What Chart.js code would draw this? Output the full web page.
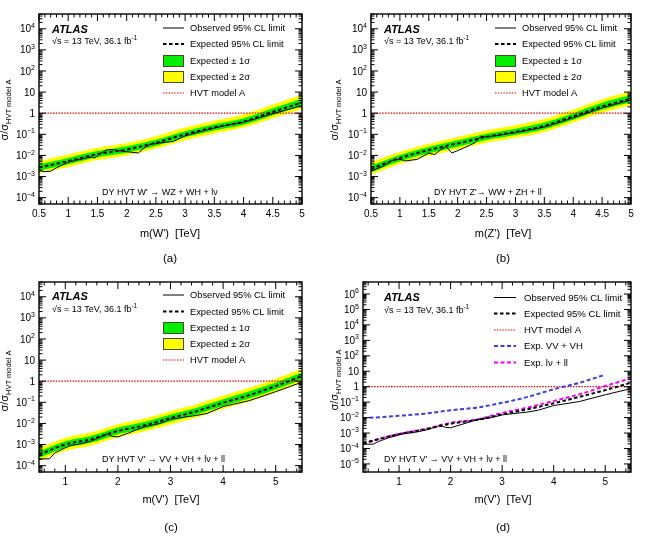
<!DOCTYPE html>
<html>
<head>
<meta charset="utf-8">
<script src="https://cdn.jsdelivr.net/npm/chart.js@4.4.1/dist/chart.umd.min.js"></script>
<style>
html, body { margin: 0; padding: 0; background: #fff; }
#wrap { position: relative; width: 646px; height: 540px; overflow: hidden; }
#wrap canvas { position: absolute; }
</style>
</head>
<body>
<div id="wrap">
<canvas id="panelA" width="323" height="270" style="left:0;top:0"></canvas>
<canvas id="panelB" width="323" height="270" style="left:323px;top:0"></canvas>
<canvas id="panelC" width="323" height="270" style="left:0;top:270px"></canvas>
<canvas id="panelD" width="323" height="270" style="left:323px;top:270px"></canvas>
</div>
<script>
// ---- values ----
const hvtModelA = 1;

// (a) W' -> WZ + WH + lv
const massA = [0.5, 1.0, 1.5, 2.0, 2.5, 3.0, 3.5, 4.0, 4.5, 5.0];
const expA = [2.7e-3, 5.4e-3, 1.15e-2, 1.9e-2, 4.0e-2, 0.10, 0.21, 0.40, 1.15, 3.2];
const up1A = [3.8e-3, 7.6e-3, 1.6e-2, 2.7e-2, 5.6e-2, 0.14, 0.30, 0.58, 1.7, 4.8];
const dn1A = [1.9e-3, 3.8e-3, 8.2e-3, 1.35e-2, 2.8e-2, 0.072, 0.15, 0.28, 0.80, 2.2];
const up2A = [5.5e-3, 1.1e-2, 2.3e-2, 3.9e-2, 8.2e-2, 0.21, 0.44, 0.86, 2.6, 7.2];
const dn2A = [1.4e-3, 2.8e-3, 6.0e-3, 1.0e-2, 2.1e-2, 0.053, 0.11, 0.21, 0.58, 1.6];
const obsMassA = [0.5, 0.6, 0.7, 0.8, 1.0, 1.2, 1.4, 1.45, 1.55, 1.65, 1.75, 1.9, 2.0, 2.2, 2.3, 2.4, 2.6, 2.8, 3.0, 3.2, 3.5, 3.8, 4.0, 4.3, 4.5, 4.8, 5.0];
const obsA = [1.9e-3, 1.7e-3, 1.8e-3, 2.6e-3, 4.8e-3, 6.5e-3, 8.5e-3, 7.5e-3, 1.2e-2, 1.8e-2, 1.9e-2, 1.65e-2, 1.5e-2, 1.3e-2, 2.3e-2, 3.3e-2, 4.0e-2, 4.6e-2, 8.5e-2, 0.12, 0.20, 0.30, 0.37, 0.65, 0.95, 1.6, 2.3];

// (b) Z' -> WW + ZH + ll
const massB = [0.5, 1.0, 1.5, 2.0, 2.5, 3.0, 3.5, 4.0, 4.5, 5.0];
const expB = [2.3e-3, 7.5e-3, 1.8e-2, 3.7e-2, 7.6e-2, 0.13, 0.25, 0.70, 2.1, 4.8];
const up1B = [3.3e-3, 1.05e-2, 2.5e-2, 5.2e-2, 0.107, 0.185, 0.36, 1.0, 3.1, 7.2];
const dn1B = [1.6e-3, 5.3e-3, 1.28e-2, 2.6e-2, 5.4e-2, 0.092, 0.175, 0.49, 1.45, 3.3];
const up2B = [4.8e-3, 1.5e-2, 3.6e-2, 7.5e-2, 0.155, 0.27, 0.53, 1.5, 4.6, 11];
const dn2B = [1.2e-3, 3.9e-3, 9.5e-3, 1.95e-2, 4.0e-2, 0.068, 0.13, 0.36, 1.05, 2.4];
const obsMassB = [0.5, 0.7, 0.9, 1.0, 1.1, 1.3, 1.5, 1.6, 1.7, 1.8, 1.9, 2.1, 2.3, 2.4, 2.5, 2.7, 3.0, 3.5, 4.0, 4.5, 5.0];
const obsB = [1.8e-3, 3.0e-3, 6.5e-3, 6.5e-3, 5.5e-3, 6.5e-3, 1.3e-2, 1.1e-2, 1.8e-2, 2.6e-2, 1.3e-2, 2.2e-2, 4.0e-2, 8.0e-2, 7.5e-2, 9.0e-2, 0.12, 0.22, 0.60, 1.8, 4.2];

// (c) V' -> VV + VH + lv + ll
const massC = [0.5, 1.0, 1.5, 2.0, 2.5, 3.0, 3.5, 4.0, 4.5, 5.0, 5.5];
const expC = [3.3e-4, 1.0e-3, 1.8e-3, 4.4e-3, 8.0e-3, 1.8e-2, 3.8e-2, 9.5e-2, 0.22, 0.58, 1.75];
const up1C = [4.8e-4, 1.45e-3, 2.6e-3, 6.4e-3, 1.17e-2, 2.65e-2, 5.6e-2, 0.14, 0.33, 0.87, 2.6];
const dn1C = [2.3e-4, 7.0e-4, 1.25e-3, 3.1e-3, 5.6e-3, 1.25e-2, 2.65e-2, 6.6e-2, 0.15, 0.40, 1.2];
const up2C = [7.0e-4, 2.1e-3, 3.8e-3, 9.2e-3, 1.7e-2, 3.9e-2, 8.2e-2, 0.21, 0.49, 1.3, 4.0];
const dn2C = [1.7e-4, 5.0e-4, 9.0e-4, 2.2e-3, 4.1e-3, 9.0e-3, 1.9e-2, 4.8e-2, 0.11, 0.29, 0.85];
const obsMassC = [0.5, 0.7, 0.8, 1.0, 1.1, 1.3, 1.5, 1.7, 1.8, 1.9, 2.0, 2.2, 2.5, 2.8, 3.0, 3.5, 3.7, 4.0, 4.5, 5.0, 5.5];
const obsC = [2.1e-4, 2.1e-4, 4.0e-4, 7.0e-4, 9.0e-4, 1.1e-3, 1.5e-3, 2.4e-3, 3.2e-3, 2.4e-3, 2.3e-3, 3.5e-3, 7.0e-3, 1.0e-2, 1.6e-2, 2.4e-2, 3.0e-2, 6.3e-2, 0.12, 0.32, 0.90];

// (d) V' combined with channel groups
const massD = [0.3, 1.0, 1.5, 2.0, 2.5, 3.0, 3.5, 4.0, 4.5, 5.0, 5.5];
const expD = [2.2e-4, 8.5e-4, 1.7e-3, 4.0e-3, 7.0e-3, 1.6e-2, 3.5e-2, 8.5e-2, 0.22, 0.60, 1.8];
const lvllD = [2.0e-4, 9.0e-4, 1.8e-3, 4.6e-3, 7.5e-3, 2.0e-2, 4.5e-2, 0.12, 0.32, 1.1, 3.5];
const vvMassD = [0.3, 1.0, 1.5, 2.0, 2.5, 3.0, 3.5, 4.0, 4.5, 5.0];
const vvvhD = [9.0e-3, 1.3e-2, 1.8e-2, 3.0e-2, 4.4e-2, 9.0e-2, 0.22, 0.68, 1.8, 6.0];
const obsMassD = [0.3, 0.5, 0.6, 0.8, 1.0, 1.1, 1.3, 1.5, 1.7, 1.8, 1.9, 2.0, 2.2, 2.5, 2.8, 3.0, 3.5, 3.7, 4.0, 4.5, 5.0, 5.5];
const obsD = [1.9e-4, 1.9e-4, 2.8e-4, 5.0e-4, 7.5e-4, 9.0e-4, 1.1e-3, 1.5e-3, 2.4e-3, 3.2e-3, 2.3e-3, 2.2e-3, 3.5e-3, 7.0e-3, 1.0e-2, 1.5e-2, 2.3e-2, 3.0e-2, 6.0e-2, 0.11, 0.30, 0.75];

// tick labels
const xTicksAB = [0.5, 1, 1.5, 2, 2.5, 3, 3.5, 4, 4.5, 5];
const xTicksCD = [1, 2, 3, 4, 5];
const yDecadesABC = [-4, -3, -2, -1, 0, 1, 2, 3, 4];
const yDecadesD = [-5, -4, -3, -2, -1, 0, 1, 2, 3, 4, 5, 6];

// ---- styling ----
const FONT = '"Liberation Sans", Arial, Helvetica, sans-serif';
const GREEN = 'rgb(0,238,0)';
const YELLOW = 'rgb(255,255,0)';
const RED = 'rgb(235,0,0)';
const BLUE = 'rgb(60,60,225)';
const MAGENTA = 'rgb(245,0,245)';
const NONE = 'rgba(0,0,0,0)';

const styleObs = { color: '#000', width: 1, dash: [] };
const styleExp = { color: '#000', width: 2, dash: [3.5, 2.5] };
const styleHvt = { color: RED, width: 1.2, dash: [1.5, 1.3] };
const styleVV = { color: BLUE, width: 2, dash: [4, 2.5] };
const styleLL = { color: MAGENTA, width: 2, dash: [4, 2.5] };

const legendLimits = [
    { kind: 'line', style: styleObs, text: 'Observed 95% CL limit' },
    { kind: 'line', style: styleExp, text: 'Expected 95% CL limit' },
    { kind: 'box', color: GREEN, text: 'Expected \u00b1 1\u03c3' },
    { kind: 'box', color: YELLOW, text: 'Expected \u00b1 2\u03c3' },
    { kind: 'line', style: styleHvt, text: 'HVT model A' }
];
const legendChannels = [
    { kind: 'line', style: styleObs, text: 'Observed 95% CL limit' },
    { kind: 'line', style: styleExp, text: 'Expected 95% CL limit' },
    { kind: 'line', style: styleHvt, text: 'HVT model A' },
    { kind: 'line', style: styleVV, text: 'Exp. VV + VH' },
    { kind: 'line', style: styleLL, text: 'Exp. l\u03bd + ll' }
];

function pts(xs, ys) {
    return xs.map(function (x, i) { return { x: x, y: ys[i] }; });
}

function lineSet(data, style, order, smooth) {
    return {
        data: data,
        borderColor: style.color,
        borderWidth: style.width,
        borderDash: style.dash,
        fill: false,
        order: order,
        cubicInterpolationMode: smooth ? 'monotone' : 'default',
        tension: 0
    };
}

function bandSets(mass, up, dn, color, order) {
    return [
        { data: pts(mass, up), borderColor: NONE, borderWidth: 0, backgroundColor: color, fill: '+1', order: order, cubicInterpolationMode: 'monotone' },
        { data: pts(mass, dn), borderColor: NONE, borderWidth: 0, fill: false, order: order, cubicInterpolationMode: 'monotone' }
    ];
}

function limitDatasets(p, s) {
    return [
        lineSet(pts(s.obsMass, s.obs), styleObs, 0, false),
        lineSet(pts(s.mass, s.exp), styleExp, 1, true),
        lineSet([{ x: p.xMin, y: hvtModelA }, { x: p.xMax, y: hvtModelA }], styleHvt, 2, false)
    ].concat(bandSets(s.mass, s.up1, s.dn1, GREEN, 3), bandSets(s.mass, s.up2, s.dn2, YELLOW, 4));
}

function channelDatasets(p) {
    return [
        lineSet(pts(obsMassD, obsD), styleObs, 0, false),
        lineSet(pts(massD, expD), styleExp, 1, true),
        lineSet(pts(massD, lvllD), styleLL, 2, true),
        lineSet(pts(vvMassD, vvvhD), styleVV, 3, true),
        lineSet([{ x: p.xMin, y: hvtModelA }, { x: p.xMax, y: hvtModelA }], styleHvt, 4, false)
    ];
}

// layout in page coordinates; each panel canvas is shifted by org
const panels = [
    {
        id: 'panelA', org: [0, 0], area: [39, 14, 302, 204],
        xMin: 0.5, xMax: 5, xTicks: xTicksAB, xMinor: 0.1,
        yMin: 5e-5, yMax: 5e4, yDecades: yDecadesABC,
        atlas: [52, 33], energy: [52, 44],
        legend: { rows: legendLimits, x0: 163, x1: 184, tx: 190, ys: [28, 44, 61, 77, 93], font: 9.3 },
        process: { text: "DY HVT W' \u2192 WZ + WH + l\u03bd", x: 102, y: 195 },
        xTitle: { text: "m(W')  [TeV]", x: 170, y: 237 },
        yTitle: { x: 8, y: 110 },
        letter: { text: '(a)', x: 170, y: 262 },
        series: { mass: massA, exp: expA, up1: up1A, dn1: dn1A, up2: up2A, dn2: dn2A, obsMass: obsMassA, obs: obsA }
    },
    {
        id: 'panelB', org: [323, 0], area: [371, 14, 631, 204],
        xMin: 0.5, xMax: 5, xTicks: xTicksAB, xMinor: 0.1,
        yMin: 5e-5, yMax: 5e4, yDecades: yDecadesABC,
        atlas: [384, 33], energy: [384, 44],
        legend: { rows: legendLimits, x0: 495, x1: 516, tx: 522, ys: [28, 44, 61, 77, 93], font: 9.3 },
        process: { text: "DY HVT Z'\u2192 WW + ZH + ll", x: 434, y: 195 },
        xTitle: { text: "m(Z')  [TeV]", x: 503, y: 237 },
        yTitle: { x: 338, y: 110 },
        letter: { text: '(b)', x: 503, y: 262 },
        series: { mass: massB, exp: expB, up1: up1B, dn1: dn1B, up2: up2B, dn2: dn2B, obsMass: obsMassB, obs: obsB }
    },
    {
        id: 'panelC', org: [0, 270], area: [39, 282, 302, 472],
        xMin: 0.5, xMax: 5.5, xTicks: xTicksCD, xMinor: 0.2,
        yMin: 5e-5, yMax: 5e4, yDecades: yDecadesABC,
        atlas: [52, 300], energy: [52, 312],
        legend: { rows: legendLimits, x0: 163, x1: 184, tx: 190, ys: [295, 311.5, 328, 344, 360], font: 9.3 },
        process: { text: "DY HVT V' \u2192 VV + VH + l\u03bd + ll", x: 102, y: 462 },
        xTitle: { text: "m(V')  [TeV]", x: 171, y: 503 },
        yTitle: { x: 8, y: 381 },
        letter: { text: '(c)', x: 171, y: 531 },
        series: { mass: massC, exp: expC, up1: up1C, dn1: dn1C, up2: up2C, dn2: dn2C, obsMass: obsMassC, obs: obsC }
    },
    {
        id: 'panelD', org: [323, 270], area: [363, 282, 631, 472],
        xMin: 0.3, xMax: 5.5, xTicks: xTicksCD, xMinor: 0.2,
        yMin: 3e-6, yMax: 6e6, yDecades: yDecadesD,
        atlas: [384, 301], energy: [384, 313],
        legend: { rows: legendChannels, x0: 494, x1: 516, tx: 524, ys: [297.5, 313.5, 330, 346, 362.5], font: 9.6 },
        process: { text: "DY HVT V' \u2192 VV + VH + l\u03bd + ll", x: 384, y: 462 },
        xTitle: { text: "m(V')  [TeV]", x: 503, y: 503 },
        yTitle: { x: 338, y: 380 },
        letter: { text: '(d)', x: 503, y: 531 }
    }
];

function supText(ctx, base, exp, x, y, align, baseSize, expSize, raise) {
    ctx.font = baseSize + 'px ' + FONT;
    const wb = ctx.measureText(base).width;
    ctx.font = expSize + 'px ' + FONT;
    const we = exp ? ctx.measureText(exp).width : 0;
    let sx = x;
    if (align === 'right') sx = x - wb - we;
    if (align === 'center') sx = x - (wb + we) / 2;
    ctx.textAlign = 'left';
    ctx.font = baseSize + 'px ' + FONT;
    ctx.fillText(base, sx, y);
    if (exp) {
        ctx.font = expSize + 'px ' + FONT;
        ctx.fillText(exp, sx + wb, y - raise);
    }
}

function seg(ctx, x0, y0, x1, y1) {
    ctx.beginPath();
    ctx.moveTo(x0, y0);
    ctx.lineTo(x1, y1);
    ctx.stroke();
}

function makeDecor(p) {
    return {
        id: 'atlasDecor',
        afterDraw: function (chart) {
            const ctx = chart.ctx;
            const a = chart.chartArea;
            const xs = chart.scales.x;
            const ys = chart.scales.y;
            ctx.save();
            ctx.fillStyle = '#000';
            ctx.strokeStyle = '#000';
            ctx.textBaseline = 'alphabetic';

            // frame
            ctx.lineWidth = 1.4;
            ctx.strokeRect(a.left, a.top, a.right - a.left, a.bottom - a.top);

            // y ticks, inside, both sides
            ctx.lineWidth = 1;
            const eLo = Math.floor(Math.log10(p.yMin));
            const eHi = Math.ceil(Math.log10(p.yMax));
            for (let e = eLo; e <= eHi; e++) {
                for (let k = 1; k <= 9; k++) {
                    const v = k * Math.pow(10, e);
                    if (v < p.yMin || v > p.yMax) continue;
                    const py = ys.getPixelForValue(v);
                    const len = k === 1 ? 7 : 3.5;
                    seg(ctx, a.left, py, a.left + len, py);
                    seg(ctx, a.right, py, a.right - len, py);
                }
            }

            // x ticks, inside, top and bottom
            const nMinor = Math.round((p.xMax - p.xMin) / p.xMinor);
            for (let i = 0; i <= nMinor + 1; i++) {
                const v = Math.round((Math.ceil(p.xMin / p.xMinor - 1e-6) + i) * p.xMinor * 1000) / 1000;
                if (v < p.xMin - 1e-6 || v > p.xMax + 1e-6) continue;
                const px = xs.getPixelForValue(v);
                const major = p.xTicks.some(function (t) { return Math.abs(t - v) < 1e-6; });
                const len = major ? 7 : 3.5;
                seg(ctx, px, a.bottom, px, a.bottom - len);
                seg(ctx, px, a.top, px, a.top + len);
            }

            // x tick labels
            ctx.font = '10px ' + FONT;
            ctx.textAlign = 'center';
            p.xTicks.forEach(function (t) {
                ctx.fillText(String(t), xs.getPixelForValue(t), a.bottom + 13);
            });

            // y tick labels
            p.yDecades.forEach(function (e) {
                const py = ys.getPixelForValue(Math.pow(10, e)) + 3.6;
                if (e === 0) supText(ctx, '1', '', a.left - 4, py, 'right', 10, 7, 0);
                else if (e === 1) supText(ctx, '10', '', a.left - 4, py, 'right', 10, 7, 0);
                else supText(ctx, '10', String(e).replace('-', '\u2212'), a.left - 4, py, 'right', 10, 7, 4.5);
            });

            // everything below is placed in page coordinates
            ctx.translate(-p.org[0], -p.org[1]);

            // y title, rotated
            ctx.save();
            ctx.translate(p.yTitle.x, p.yTitle.y);
            ctx.rotate(-Math.PI / 2);
            ctx.font = '11px ' + FONT;
            const mainW = ctx.measureText('\u03c3/\u03c3').width;
            ctx.font = '7.5px ' + FONT;
            const subW = ctx.measureText('HVT model A').width;
            const sx = -(mainW + subW) / 2;
            ctx.textAlign = 'left';
            ctx.font = '11px ' + FONT;
            ctx.fillText('\u03c3/\u03c3', sx, 0);
            ctx.font = '7.5px ' + FONT;
            ctx.fillText('HVT model A', sx + mainW, 2.5);
            ctx.restore();

            // x title and panel letter
            ctx.textAlign = 'center';
            ctx.font = '11px ' + FONT;
            ctx.fillText(p.xTitle.text, p.xTitle.x, p.xTitle.y);
            ctx.font = '11.5px ' + FONT;
            ctx.fillText(p.letter.text, p.letter.x, p.letter.y);

            // ATLAS label
            ctx.textAlign = 'left';
            ctx.font = 'italic bold 11px ' + FONT;
            ctx.fillText('ATLAS', p.atlas[0], p.atlas[1]);
            supText(ctx, '\u221as = 13 TeV, 36.1 fb', '-1', p.energy[0], p.energy[1], 'left', 9, 6.5, 3.8);

            // process label
            ctx.font = '9px ' + FONT;
            ctx.fillText(p.process.text, p.process.x, p.process.y);

            // legend
            const lg = p.legend;
            lg.rows.forEach(function (row, i) {
                const cy = lg.ys[i];
                if (row.kind === 'box') {
                    ctx.fillStyle = row.color;
                    ctx.fillRect(lg.x0, cy - 6, lg.x1 - lg.x0, 12);
                    ctx.strokeStyle = '#4a4a30';
                    ctx.lineWidth = 1;
                    ctx.setLineDash([]);
                    ctx.strokeRect(lg.x0 + 0.5, cy - 5.5, lg.x1 - lg.x0 - 1, 11);
                } else {
                    ctx.strokeStyle = row.style.color;
                    ctx.lineWidth = row.style.width;
                    ctx.setLineDash(row.style.dash);
                    seg(ctx, lg.x0, cy, lg.x1, cy);
                    ctx.setLineDash([]);
                }
                ctx.fillStyle = '#000';
                ctx.font = lg.font + 'px ' + FONT;
                ctx.fillText(row.text, lg.tx, cy + 3.3);
            });
            ctx.restore();
        }
    };
}

panels.forEach(function (p) {
    const canvas = document.getElementById(p.id);
    const datasets = p.series ? limitDatasets(p, p.series) : channelDatasets(p);
    new Chart(canvas.getContext('2d'), {
        type: 'line',
        data: { datasets: datasets },
        options: {
            responsive: false,
            animation: false,
            events: [],
            layout: {
                padding: {
                    left: p.area[0] - p.org[0],
                    top: p.area[1] - p.org[1],
                    right: p.org[0] + 323 - p.area[2],
                    bottom: p.org[1] + 270 - p.area[3]
                }
            },
            elements: { point: { radius: 0 } },
            plugins: { legend: { display: false }, tooltip: { enabled: false } },
            scales: {
                x: { type: 'linear', min: p.xMin, max: p.xMax, display: false },
                y: { type: 'logarithmic', min: p.yMin, max: p.yMax, display: false }
            }
        },
        plugins: [makeDecor(p)]
    });
});
</script>
</body>
</html>
